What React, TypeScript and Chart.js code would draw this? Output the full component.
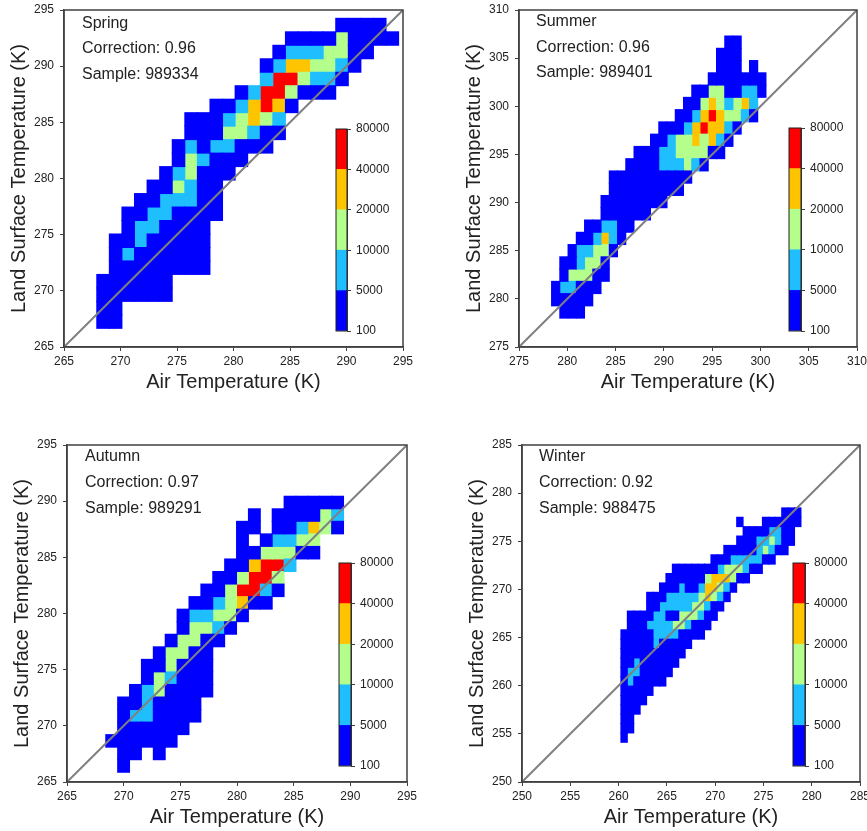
import React, { useEffect, useRef } from "react";
import { Chart, registerables } from "chart.js";

Chart.register(...registerables);

// Cell classes: 1 = 100-5000, 2 = 5000-10000, 3 = 10000-20000, 4 = 20000-40000, 5 = 40000-80000
const colorbarLabels = [100, 5000, 10000, 20000, 40000, 80000];
const classColors = ["#0000FF", "#1EBEFF", "#B4FF8C", "#FFC400", "#FF0000"];

// Each row, top to bottom: [first column, class of each cell from there ('.' = empty)]
const springRows: [number, string][] = [
  [19, "1111"],
  [15, "111131111"],
  [14, "12223311"],
  [13, "12443321"],
  [13, "2553221"],
  [11, "12553111"],
  [9, "1124541"],
  [7, "11123432"],
  [7, "11133211"],
  [6, "12122111"],
  [6, "132111"],
  [5, "123111"],
  [4, "113211"],
  [3, "1122211"],
  [2, "11221111"],
  [2, "1221111"],
  [1, "11211111"],
  [1, "12111111"],
  [1, "11111111"],
  [0, "111111"],
  [0, "111111"],
  [0, "11"],
  [0, "11"],
];
const summerRows: [number, string][] = [
  [21, "11"],
  [20, "111"],
  [20, "111.1"],
  [19, "1111111"],
  [17, "113311221"],
  [16, "113432342"],
  [15, "1124543321"],
  [13, "1112454421"],
  [12, "1123343421"],
  [10, "11122333311"],
  [9, "1111222321"],
  [7, "1111111111"],
  [7, "111111111"],
  [6, "11111111"],
  [6, "111111"],
  [4, "112211"],
  [3, "112421"],
  [2, "122331"],
  [1, "112331"],
  [1, "133311"],
  [0, "122111"],
  [0, "11111"],
  [1, "111"],
];
const autumnRows: [number, string][] = [
  [15, "11111"],
  [12, "1.111132"],
  [11, "11.112431"],
  [11, "1.12233"],
  [11, "1133311"],
  [10, "114552"],
  [9, "113553"],
  [8, "1135521"],
  [7, "1123411"],
  [6, "122331"],
  [6, "13321"],
  [5, "13311"],
  [4, "13311"],
  [3, "113111"],
  [3, "132111"],
  [2, "1231111"],
  [1, "1121111"],
  [1, "1221111"],
  [1, "111111"],
  [0, "111111"],
  [1, "11.1"],
  [1, "1"],
];
const winterRows: [number, string][] = [
  [25, "111"],
  [18, "1...111111"],
  [19, "11112211"],
  [18, "111223211"],
  [16, "1111123211"],
  [14, "1112222211"],
  [8, "11111112333211"],
  [7, "1111113444311"],
  [6, "111211244321"],
  [4, "1112222234321"],
  [4, "112222233211"],
  [1, "11112211333211"],
  [1, "1112222332111"],
  [0, "1111122221111"],
  [0, "11111211111"],
  [0, "1111111111"],
  [0, "112111111"],
  [0, "12211111"],
  [0, "1211111"],
  [0, "11111"],
  [0, "1111"],
  [0, "111"],
  [0, "11"],
  [0, "11"],
  [0, "1"],
];

type PanelSpec = {
  season: string; correction: string; sample: string; rows: [number, string][];
  xRange: [number, number]; yRange: [number, number];
  xOrigin: number; xStep: number; yOrigin: number; yStep: number;
  plot: { l: number; t: number; r: number; b: number };
  bar: { l: number; t: number; r: number; b: number };
  textDx: number; textDy: number[];
};

const panels: PanelSpec[] = [
  { season: "Spring", correction: "Correction: 0.96", sample: "Sample: 989334", rows: springRows,
    xRange: [265, 295], yRange: [265, 295], xOrigin: 267.9, xStep: 1.113, yOrigin: 294.26, yStep: 1.2,
    plot: { l: 64, t: 10, r: 403, b: 347 }, bar: { l: 336, t: 129, r: 347, b: 331 }, textDx: 18, textDy: [14, 39, 65] },
  { season: "Summer", correction: "Correction: 0.96", sample: "Sample: 989401", rows: summerRows,
    xRange: [275, 310], yRange: [275, 310], xOrigin: 278.37, xStep: 0.854, yOrigin: 307.3, yStep: 1.274,
    plot: { l: 519, t: 10, r: 857, b: 347 }, bar: { l: 789, t: 128, r: 801, b: 331 }, textDx: 17, textDy: [12, 38, 63] },
  { season: "Autumn", correction: "Correction: 0.97", sample: "Sample: 989291", rows: autumnRows,
    xRange: [265, 295], yRange: [265, 295], xOrigin: 268.42, xStep: 1.049, yOrigin: 290.44, yStep: 1.117,
    plot: { l: 67, t: 445, r: 407, b: 782 }, bar: { l: 339, t: 563, r: 351, b: 766 }, textDx: 18, textDy: [12, 38, 64] },
  { season: "Winter", correction: "Correction: 0.92", sample: "Sample: 988475", rows: winterRows,
    xRange: [250, 285], yRange: [250, 285], xOrigin: 260.24, xStep: 0.666, yOrigin: 278.47, yStep: 0.974,
    plot: { l: 522, t: 445, r: 860, b: 782 }, bar: { l: 793, t: 563, r: 805, b: 766 }, textDx: 17, textDy: [12, 38, 64] },
];

const FONT = "'Liberation Sans', Arial, sans-serif";
const TEXT = "#222222";
const AXIS = "#404040";
const PAD_TOP = 16;
const BAR_PAD = 14;

function cellDatasets(p: PanelSpec) {
  return classColors.map((color, k) => {
    const data: { x: number; y: [number, number] }[] = [];
    p.rows.forEach(([start, cells], r) => {
      const hi = p.yOrigin - r * p.yStep;
      for (let i = 0; i < cells.length; i++) {
        if (cells[i] === String(k + 1)) {
          data.push({ x: p.xOrigin + (start + i + 0.5) * p.xStep, y: [hi - p.yStep, hi] });
        }
      }
    });
    return {
      type: "bar" as const, data, backgroundColor: color, borderWidth: 0, grouped: false,
      barPercentage: 1, categoryPercentage: 1, inflateAmount: 0.5, order: 1,
    };
  });
}

function Panel({ p }: { p: PanelSpec }) {
  const mainRef = useRef<HTMLCanvasElement>(null);
  const barRef = useRef<HTMLCanvasElement>(null);
  const plotW = p.plot.r - p.plot.l;
  const plotH = p.plot.b - p.plot.t;
  const barW = p.bar.r - p.bar.l;
  const barH = p.bar.b - p.bar.t;

  useEffect(() => {
    const axis = (range: [number, number], title: string, isX: boolean) => ({
      type: "linear" as const,
      min: range[0], max: range[1], offset: false,
      grid: { drawOnChartArea: false, drawTicks: true, tickLength: 4, color: AXIS, offset: false },
      border: { display: true, color: AXIS, width: 1.5 },
      ticks: { stepSize: 5, autoSkip: false, maxRotation: 0, color: TEXT, padding: isX ? 3 : 6, font: { family: FONT, size: 12 } },
      title: {
        display: true, text: title, color: TEXT, font: { family: FONT, size: 20 },
        padding: isX ? { top: 0, bottom: 13 } : { top: 7, bottom: 0 },
      },
      afterFit: (s: any) => { if (isX) s.height = 60; else s.width = 64; },
    });

    const main = new Chart(mainRef.current!, {
      type: "bar",
      data: {
        datasets: [
          ...cellDatasets(p),
          {
            type: "line" as const, data: [{ x: p.xRange[0], y: p.yRange[0] }, { x: p.xRange[1], y: p.yRange[1] }],
            borderColor: "#808080", borderWidth: 2, pointRadius: 0, order: 0,
          },
        ] as any,
      },
      options: {
        responsive: false, animation: false, events: [],
        layout: { padding: { top: PAD_TOP, right: 30, left: 0, bottom: 0 } },
        plugins: { legend: { display: false }, tooltip: { enabled: false } },
        scales: {
          x: axis(p.xRange, "Air Temperature (K)", true),
          y: axis(p.yRange, "Land Surface Temperature (K)", false),
        },
      } as any,
      plugins: [{
        id: "frameAndNotes",
        afterDraw(chart: any) {
          const { ctx, chartArea: a } = chart;
          ctx.save();
          ctx.strokeStyle = AXIS;
          ctx.lineWidth = 1.5;
          ctx.strokeRect(a.left, a.top, a.right - a.left, a.bottom - a.top);
          ctx.fillStyle = TEXT;
          ctx.font = `16px ${FONT}`;
          ctx.textAlign = "left";
          ctx.textBaseline = "middle";
          [p.season, p.correction, p.sample].forEach((t, i) => ctx.fillText(t, a.left + p.textDx, a.top + p.textDy[i]));
          ctx.restore();
        },
      }],
    });

    const legend = new Chart(barRef.current!, {
      type: "bar",
      data: {
        labels: ["count"],
        datasets: classColors.map((color, i) => ({
          data: [[i, i + 1]], backgroundColor: color, borderWidth: 0, grouped: false,
          barPercentage: 1, categoryPercentage: 1,
        })) as any,
      },
      options: {
        responsive: false, animation: false, events: [],
        layout: { padding: { left: 2, top: BAR_PAD, bottom: BAR_PAD, right: 0 } },
        plugins: { legend: { display: false }, tooltip: { enabled: false } },
        scales: {
          x: { display: false },
          y: {
            position: "right", min: 0, max: colorbarLabels.length - 1,
            grid: { drawOnChartArea: false, tickLength: 4, color: AXIS },
            border: { display: true, color: AXIS, width: 1 },
            ticks: {
              stepSize: 1, autoSkip: false, color: TEXT, padding: 5, font: { family: FONT, size: 12 },
              callback: (v: any) => String(colorbarLabels[v]),
            },
            afterFit: (s: any) => { s.width = 50; },
          },
        },
      } as any,
      plugins: [{
        id: "barFrame",
        afterDraw(chart: any) {
          const { ctx, chartArea: a } = chart;
          ctx.save();
          ctx.strokeStyle = "#202020";
          ctx.lineWidth = 1;
          ctx.strokeRect(a.left, a.top, a.right - a.left, a.bottom - a.top);
          ctx.restore();
        },
      }],
    });

    return () => { main.destroy(); legend.destroy(); };
  }, []);

  const mainH = plotH + PAD_TOP + 60;
  const barCanvasH = barH + 2 * BAR_PAD;
  return (
    <>
      <canvas ref={mainRef} width={plotW + 94} height={mainH}
        style={{ position: "absolute", left: p.plot.l - 64, top: p.plot.t - PAD_TOP, width: plotW + 94, height: mainH }} />
      <canvas ref={barRef} width={barW + 52} height={barCanvasH}
        style={{ position: "absolute", left: p.bar.l - 2, top: p.bar.t - BAR_PAD, width: barW + 52, height: barCanvasH }} />
    </>
  );
}

export default function App() {
  return (
    <div style={{ position: "fixed", left: 0, top: 0, width: 867, height: 831, overflow: "hidden", background: "#fff" }}>
      {panels.map((p) => <Panel key={p.season} p={p} />)}
    </div>
  );
}
